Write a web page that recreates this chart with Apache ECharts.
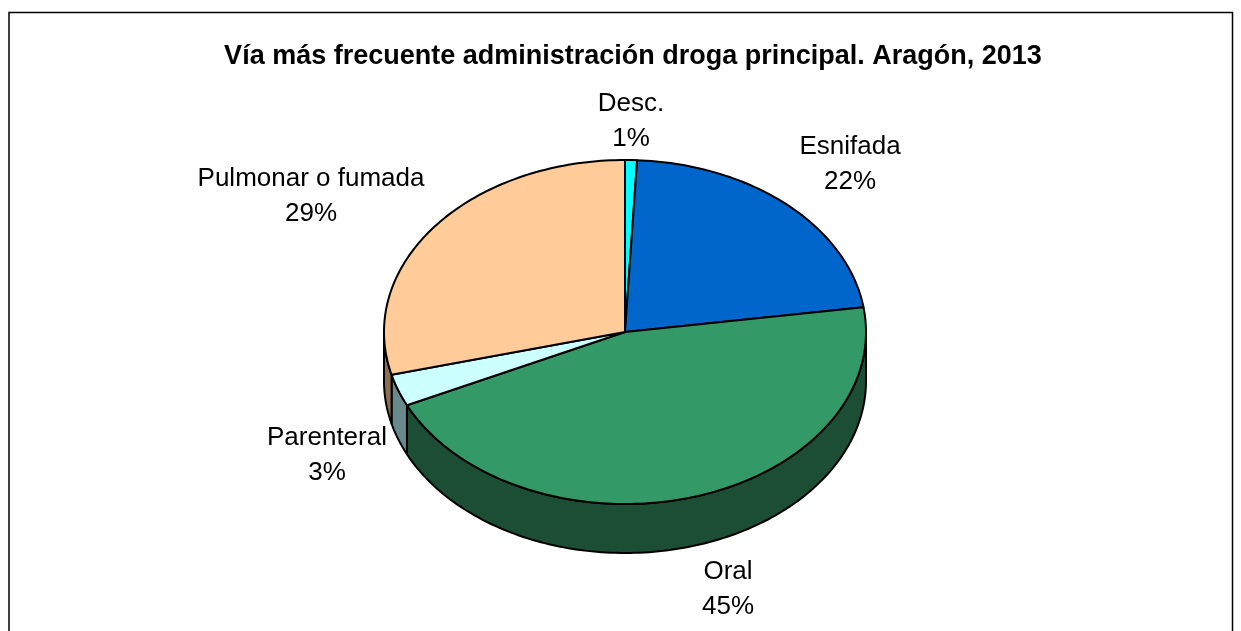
<!DOCTYPE html>
<html><head><meta charset="utf-8">
<style>html,body{margin:0;padding:0;background:#fff}#c{width:1241px;height:631px}</style>
<script src="https://cdn.jsdelivr.net/npm/echarts@6/dist/echarts.min.js"></script>
</head><body><div id="c"></div>
<script>
const categories = ['Desc.', 'Esnifada', 'Oral', 'Parenteral', 'Pulmonar o fumada'];
const values = [0.8, 21.9, 45.3, 3.0, 29.0];
const topColors = ['#00FFFF', '#0066CC', '#339966', '#CCFFFF', '#FFCC99'];
const sideColors = ['#008080', '#003366', '#1C4E36', '#688A8C', '#8C6F53'];
const labelPositions = [[631, 121], [850, 164], [728, 589], [327, 455], [311, 196]];

const CX = 625, CY = 332, RX = 241, RY = 172, DEPTH = 49;
const total = values.reduce((a, b) => a + b, 0);
const FMT = { stroke: '#000', lineWidth: 2, lineJoin: 'round' };

function pt(t, dy) { return [CX + RX * Math.sin(t), CY + (dy || 0) - RY * Math.cos(t)]; }
function arc(a, b, dy) {
  const n = Math.max(2, Math.ceil(Math.abs(b - a) / 0.02)), out = [];
  for (let i = 0; i <= n; i++) out.push(pt(a + (b - a) * i / n, dy));
  return out;
}
const starts = []; let acc = 0;
values.forEach(v => { starts.push(acc / total * Math.PI * 2); acc += v; });

function sidePolys(i) {
  // visible wall only: angles between 90deg and 270deg (front half)
  const a = Math.max(starts[i], Math.PI / 2);
  const b = Math.min(starts[i] + values[i] / total * Math.PI * 2, Math.PI * 3 / 2);
  if (b <= a) return null;
  return arc(a, b, 0).concat(arc(b, a, DEPTH));
}
function renderItem(params, api) {
  const i = api.value(0), v = api.value(1);
  const a = starts[i], b = a + v / total * Math.PI * 2;
  const children = [];
  const side = sidePolys(i);
  if (side) children.push({ type: 'polygon', shape: { points: side }, style: Object.assign({ fill: sideColors[i] }, FMT) });
  children.push({ type: 'polygon', shape: { points: [[CX, CY]].concat(arc(a, b, 0)) },
    style: Object.assign({ fill: topColors[i] }, FMT), z2: 10 });
  children.push({ type: 'text', silent: true, style: {
    x: labelPositions[i][0], y: labelPositions[i][1],
    text: categories[i] + '\n' + Math.round(v) + '%', align: 'center', verticalAlign: 'middle',
    font: '26px "Liberation Sans", Arial, sans-serif', lineHeight: 35, fill: '#000' }, z2: 20 });
  return { type: 'group', children };
}
const chart = echarts.init(document.getElementById('c'), null, { renderer: 'canvas' });
chart.setOption({
  animation: false,
  backgroundColor: '#fff',
  title: { text: 'Vía más frecuente administración droga principal. Aragón, 2013', left: 628, top: 38, textAlign: 'center',
    textStyle: { fontFamily: '"Liberation Sans", Arial, sans-serif', fontWeight: 'bold', fontSize: 27, color: '#000' } },
  graphic: [{ type: 'polyline', silent: true, shape: { points: [[9, 640], [9, 12.5], [1232.5, 12.5], [1232.5, 640]] }, style: { fill: null, stroke: '#000', lineWidth: 1.5 } }],
  series: [{
    type: 'custom', coordinateSystem: 'none', renderItem,
    data: values.map((v, i) => [i, v]),
    encode: { value: [1] }
  }]
});
</script></body></html>
